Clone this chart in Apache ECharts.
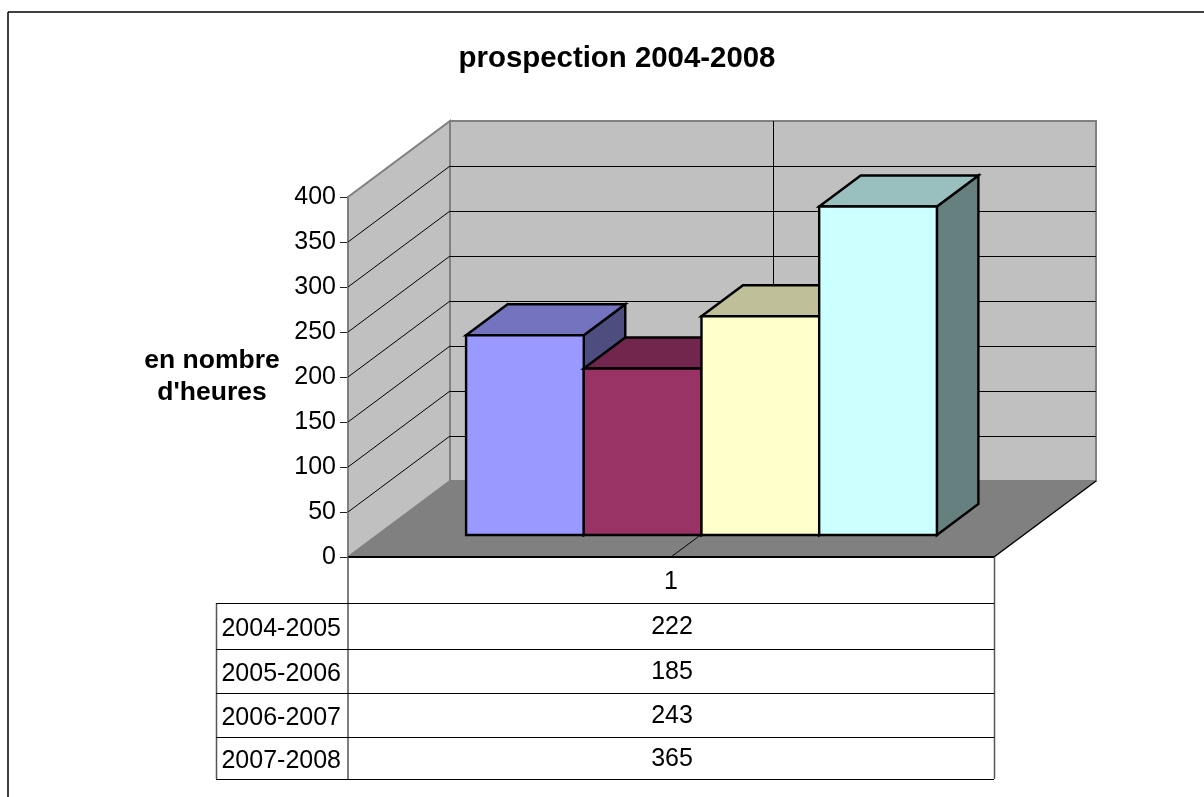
<!DOCTYPE html>
<html>
<head>
<meta charset="utf-8">
<style>html,body{margin:0;padding:0;background:#fff;overflow:hidden}#c{width:1204px;height:797px}</style>
<script src="https://cdn.jsdelivr.net/npm/echarts@6/dist/echarts.min.js"></script>
</head>
<body>
<div id="c"></div>
<script>
const categories = ['1'];
const periods = ['2004-2005', '2005-2006', '2006-2007', '2007-2008'];
const values = [222, 185, 243, 365];
const yTicks = [0, 50, 100, 150, 200, 250, 300, 350, 400];
const frontColors = ['#9999FF', '#993366', '#FFFFCC', '#CCFFFF'];
const topColors = ['#7373BF', '#73264D', '#BFBF99', '#99BFBF'];
const sideColors = ['#4D4D80', '#4D1A33', '#808066', '#668080'];

const FONT = '"Liberation Sans", Arial, sans-serif';
const WALL_DX = 102, WALL_DY = -76;      // full depth of the chart box
const BAR_OFF_X = 27, BAR_OFF_Y = -22;   // bar base offset from the front plane
const BAR_DX = 41.5, BAR_DY = -31;       // depth of a bar
const BAR_START = 0.141, BAR_W = 0.1822; // fractions of the category band
const TABLE_LEFT = 216, TABLE_ROWS = [603, 649, 693, 737, 779];

const chart = echarts.init(document.getElementById('c'), null, {renderer: 'canvas'});

function poly(points, fill, stroke, lw) {
  return {type: 'polygon', shape: {points}, silent: true,
    style: {fill: fill, stroke: stroke || null, lineWidth: lw || 0, lineJoin: 'miter'}};
}
function seg(x1, y1, x2, y2, stroke, lw) {
  return {type: 'line', silent: true, shape: {x1, y1, x2, y2}, style: {stroke, lineWidth: lw || 1}};
}

function renderBox(params, api) {
  const o = api.coord([0, 0]);
  const band = api.size([1, 0])[0];
  const x0 = o[0] - band / 2, x1 = x0 + band, y0 = o[1];
  const yTop = api.coord([0, 400])[1];
  const ch = [];
  // back wall
  ch.push(poly([[x0 + WALL_DX, yTop + WALL_DY], [x1 + WALL_DX, yTop + WALL_DY], [x1 + WALL_DX, y0 + WALL_DY], [x0 + WALL_DX, y0 + WALL_DY]], '#C0C0C0', '#808080', 2));
  // side wall
  ch.push(poly([[x0, yTop], [x0 + WALL_DX, yTop + WALL_DY], [x0 + WALL_DX, y0 + WALL_DY], [x0, y0]], '#C0C0C0', '#808080', 2));
  // floor
  ch.push(poly([[x0, y0], [x1, y0], [x1 + WALL_DX, y0 + WALL_DY], [x0 + WALL_DX, y0 + WALL_DY]], '#808080', null, 0));
  // horizontal grid lines
  yTicks.forEach(function (t) {
    if (t === 0 || t === 400) return;
    const y = api.coord([0, t])[1];
    ch.push(seg(x0, y, x0 + WALL_DX, y + WALL_DY, '#000', 1));
    ch.push(seg(x0 + WALL_DX, y + WALL_DY + 0.5, x1 + WALL_DX, y + WALL_DY + 0.5, '#000', 1));
  });
  // category grid line across floor and back wall
  ch.push(seg(o[0], y0, o[0] + WALL_DX, y0 + WALL_DY, '#000', 1));
  ch.push(seg(o[0] + WALL_DX + 0.5, y0 + WALL_DY, o[0] + WALL_DX + 0.5, yTop + WALL_DY, '#000', 1));
  // floor outline
  ch.push(seg(x0, y0, x1, y0, '#000', 2));
  ch.push(seg(x1, y0, x1 + WALL_DX, y0 + WALL_DY, '#000', 1.5));
  return {type: 'group', children: ch};
}

function renderBar(i) {
  return function (params, api) {
    const o = api.coord([0, 0]);
    const band = api.size([1, 0])[0];
    const x0 = o[0] - band / 2 + band * (BAR_START + BAR_W * i) + BAR_OFF_X;
    const x1 = x0 + band * BAR_W;
    const yb = o[1] + BAR_OFF_Y;
    const yt = api.coord([0, api.value(1)])[1] + BAR_OFF_Y;
    const s = '#000', lw = 2.4;
    return {type: 'group', children: [
      poly([[x1, yt], [x1 + BAR_DX, yt + BAR_DY], [x1 + BAR_DX, yb + BAR_DY], [x1, yb]], sideColors[i], s, lw),
      poly([[x0, yt], [x0 + BAR_DX, yt + BAR_DY], [x1 + BAR_DX, yt + BAR_DY], [x1, yt]], topColors[i], s, lw),
      poly([[x0, yt], [x1, yt], [x1, yb], [x0, yb]], frontColors[i], s, lw)
    ]};
  };
}

// data table and outer frame, built from the arrays
const plotLeft = 348, plotRight = 994;
const tableGraphics = [];
function gLine(x1, y1, x2, y2, stroke, lw) {
  tableGraphics.push({type: 'line', silent: true, z: 50, shape: {x1, y1, x2, y2}, style: {stroke, lineWidth: lw}});
}
gLine(8, 12, 1204, 12, '#000', 1.5);
gLine(8, 12, 8, 797, '#000', 1.5);
gLine(plotRight + 0.5, 557, plotRight + 0.5, TABLE_ROWS[4], '#555', 1.5);
gLine(TABLE_LEFT + 0.5, TABLE_ROWS[0], TABLE_LEFT + 0.5, TABLE_ROWS[4], '#555', 1.5);
gLine(plotLeft, 557, plotLeft, TABLE_ROWS[4], '#555', 1.5);
TABLE_ROWS.forEach(function (y) { gLine(TABLE_LEFT, y + 0.5, plotRight, y + 0.5, '#000', 1); });
periods.forEach(function (p, i) {
  const cy = (TABLE_ROWS[i] + TABLE_ROWS[i + 1]) / 2;
  tableGraphics.push({type: 'text', silent: true, z: 50, x: 341, y: cy + 3,
    style: {text: p, fontFamily: FONT, fontSize: 25, fill: '#000', align: 'right', verticalAlign: 'middle'}});
  tableGraphics.push({type: 'text', silent: true, z: 50, x: (plotLeft + plotRight) / 2 + 1, y: cy + 1,
    style: {text: String(values[i]), fontFamily: FONT, fontSize: 25, fill: '#000', align: 'center', verticalAlign: 'middle'}});
});

const series = [{
  type: 'custom', name: 'box', coordinateSystem: 'cartesian2d', silent: true, z: 1,
  renderItem: renderBox, data: [[0, 0]], clip: false, animation: false
}];
periods.forEach(function (p, i) {
  series.push({
    type: 'custom', name: p, coordinateSystem: 'cartesian2d', silent: true, z: 2 + i,
    renderItem: renderBar(i), data: [[0, values[i]]], clip: false, animation: false,
    encode: {x: 0, y: 1}
  });
});

chart.setOption({
  animation: false,
  backgroundColor: '#fff',
  title: {text: 'prospection 2004-2008', left: 612, top: 39, textAlign: 'center',
    textStyle: {fontFamily: FONT, fontSize: 29.4, fontWeight: 'bold', color: '#000'}},
  legend: {show: false},
  tooltip: {show: false},
  grid: {left: 348, top: 197, width: 646, height: 360, containLabel: false},
  xAxis: {type: 'category', data: categories,
    axisLine: {show: false}, axisTick: {show: false}, splitLine: {show: false},
    axisLabel: {margin: 13, fontFamily: FONT, fontSize: 25, color: '#000'}},
  yAxis: {type: 'value', min: 0, max: 400, interval: 50,
    name: "en nombre\nd'heures", nameLocation: 'middle', nameRotate: 0, nameGap: 136,
    nameTextStyle: {fontFamily: FONT, fontSize: 26.5, fontWeight: 'bold', color: '#000', lineHeight: 32, align: 'center', verticalAlign: 'middle', padding: [6, 0, 0, 0]},
    axisLine: {show: true, onZero: false, lineStyle: {color: '#222', width: 1.5}},
    axisTick: {show: true, length: 8, lineStyle: {color: '#222', width: 1}},
    splitLine: {show: false},
    axisLabel: {margin: 12, fontFamily: FONT, fontSize: 25, color: '#000'}},
  series: series,
  graphic: tableGraphics
});
</script>
</body>
</html>
